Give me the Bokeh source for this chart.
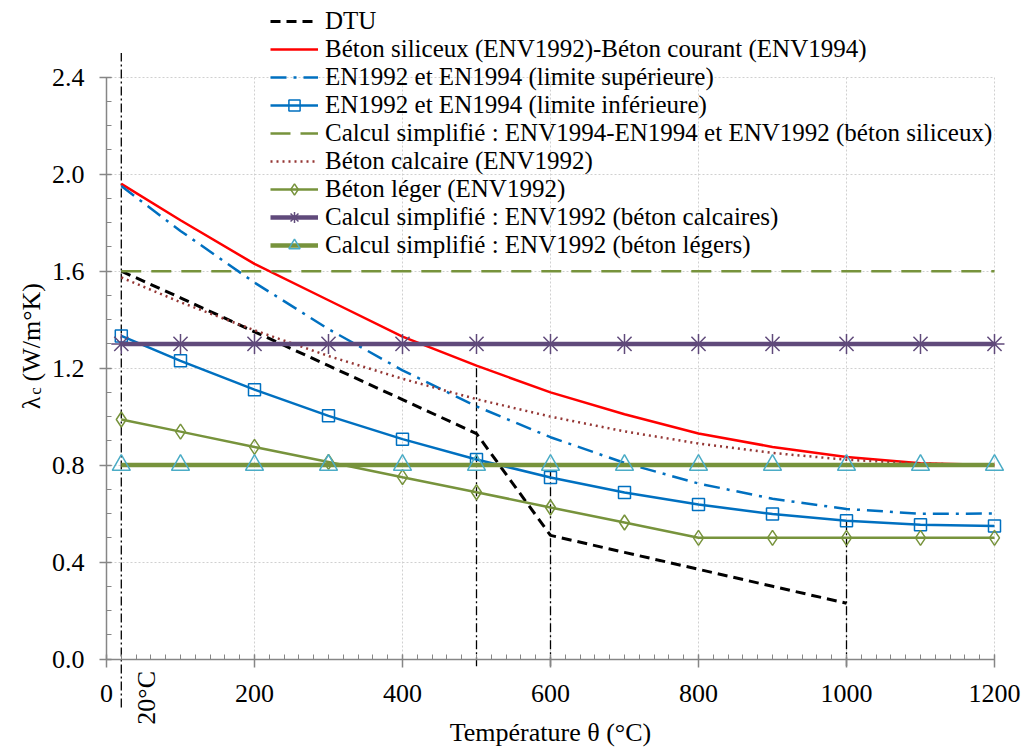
import math
from bokeh.plotting import figure
from bokeh.models import (FixedTicker, PrintfTickFormatter, Legend, LegendItem,
                          Label, Range1d)
from bokeh.embed import file_html
from bokeh.resources import INLINE

# ---------------- data ----------------
temps = [20, 100, 200, 300, 400, 500, 600, 700, 800, 900, 1000, 1100, 1200]
dtu_t = [20, 100, 200, 300, 400, 500, 600, 700, 800, 900, 1000]
dtu = [1.60, 1.49, 1.35, 1.21, 1.07, 0.93, 0.51, 0.44, 0.37, 0.30, 0.23]
siliceux = [1.96, 1.81, 1.63, 1.48, 1.33, 1.21, 1.10, 1.01, 0.93, 0.875, 0.833, 0.808, 0.80]
en_sup = [1.951, 1.766, 1.553, 1.361, 1.191, 1.042, 0.915, 0.809, 0.724, 0.661, 0.619, 0.599, 0.600]
en_inf = [1.333, 1.230, 1.111, 1.003, 0.907, 0.823, 0.749, 0.687, 0.637, 0.598, 0.570, 0.554, 0.549]
simpl_sil_t = [20, 1200]
simpl_sil = [1.6, 1.6]
calcaire = [1.574, 1.472, 1.356, 1.25, 1.156, 1.072, 1.0, 0.939, 0.889, 0.85, 0.822, 0.806, 0.80]
leger = [0.988, 0.938, 0.875, 0.813, 0.75, 0.688, 0.625, 0.563, 0.5, 0.5, 0.5, 0.5, 0.5]
simpl_calc = [1.3, 1.3, 1.3, 1.3, 1.3, 1.3, 1.3, 1.3, 1.3, 1.3, 1.3, 1.3, 1.3]
simpl_leger = [0.8, 0.8, 0.8, 0.8, 0.8, 0.8, 0.8, 0.8, 0.8, 0.8, 0.8, 0.8, 0.8]

ref_x = [20, 500, 600, 1000]
ref_top = [2.5, 1.2, 0.8, 0.57]
ref_bottom = [-0.2, -0.03, -0.03, -0.03]

x_ticks = [0, 200, 400, 600, 800, 1000, 1200]
x_minor = list(range(0, 1201, 20))
y_ticks = [0.0, 0.4, 0.8, 1.2, 1.6, 2.0, 2.4]
y_minor = [round(0.1 * i, 1) for i in range(0, 25)]

labels = [
    "DTU",
    "Béton siliceux (ENV1992)-Béton courant (ENV1994)",
    "EN1992 et EN1994 (limite supérieure)",
    "EN1992 et EN1994 (limite inférieure)",
    "Calcul simplifié : ENV1994-EN1994 et ENV1992 (béton siliceux)",
    "Béton calcaire (ENV1992)",
    "Béton léger (ENV1992)",
    "Calcul simplifié : ENV1992 (béton calcaires)",
    "Calcul simplifié : ENV1992 (béton légers)",
]

FONT = "'Liberation Serif', 'Times New Roman', serif"
AXIS_COLOR = "#868686"

# frame covers the whole canvas; axes are placed at the data origin
p = figure(width=1023, height=747, output_backend="svg", toolbar_location=None,
           x_range=Range1d(-143.24, 1239.19), y_range=Range1d(-0.3651, 2.7166),
           min_border_left=0, min_border_right=0, min_border_top=0,
           min_border_bottom=0)
p.outline_line_color = None
p.background_fill_color = "white"

# axes
xt = FixedTicker(ticks=x_ticks, minor_ticks=x_minor)
yt = FixedTicker(ticks=y_ticks, minor_ticks=y_minor)
p.xaxis.ticker = xt
p.yaxis.ticker = yt
p.xgrid.ticker = xt
p.ygrid.ticker = yt
p.yaxis.formatter = PrintfTickFormatter(format="%.1f")
p.xaxis.fixed_location = 0
p.yaxis.fixed_location = 0
p.xaxis.bounds = (0, 1200)
p.yaxis.bounds = (0, 2.4)
for ax in (p.xaxis[0], p.yaxis[0]):
    ax.axis_line_color = AXIS_COLOR
    ax.axis_line_width = 1.5
    ax.major_tick_line_color = AXIS_COLOR
    ax.minor_tick_line_color = AXIS_COLOR
    ax.major_tick_line_width = 1.5
    ax.minor_tick_line_width = 1
    ax.major_label_text_font = FONT
    ax.major_label_text_font_size = "26px"
    ax.major_label_text_color = "black"
    ax.axis_label_text_font = FONT
    ax.axis_label_text_font_size = "26px"
    ax.axis_label_text_font_style = "normal"
    ax.axis_label_text_color = "black"
p.xaxis.major_tick_in = 5
p.xaxis.major_tick_out = 8
p.xaxis.minor_tick_in = 5
p.xaxis.minor_tick_out = 0
p.xaxis.major_label_standoff = 18
p.xaxis.axis_label = "Température θ (°C)"
p.xaxis.axis_label_standoff = 12
p.yaxis.major_tick_in = 5
p.yaxis.major_tick_out = 7
p.yaxis.minor_tick_in = 5
p.yaxis.minor_tick_out = 0
p.yaxis.major_label_standoff = 15

# grids
p.xgrid.grid_line_color = "#D0D0D0"
p.ygrid.grid_line_color = "#D0D0D0"
p.xgrid.grid_line_dash = "2 2"
p.ygrid.grid_line_dash = "2 2"
try:
    p.xgrid.cross_bounds = (0, 2.4)
    p.ygrid.cross_bounds = (0, 1200)
    p.xgrid.bounds = (0, 1200)
    p.ygrid.bounds = (0, 2.4)
except AttributeError:
    p.xgrid.visible = False
    p.ygrid.visible = False
    p.segment(x0=x_ticks[1:], y0=[0] * 6, x1=x_ticks[1:], y1=[2.4] * 6,
              line_color="#D0D0D0", line_dash="2 2", line_width=1)
    p.segment(x0=[0] * 6, y0=y_ticks[1:], x1=[1200] * 6, y1=y_ticks[1:],
              line_color="#D0D0D0", line_dash="2 2", line_width=1)

# reference vertical dash-dot lines
p.segment(x0=ref_x, y0=ref_bottom, x1=ref_x, y1=ref_top,
          line_color="black", line_width=1.3, line_dash="9 3 2 3")

# series
r_dtu = p.line(dtu_t, dtu, line_color="black", line_width=3, line_dash="10 6")
r_sil = p.line(temps, siliceux, line_color="#FF0000", line_width=2.5)
r_sup = p.line(temps, en_sup, line_color="#0070C0", line_width=2.5, line_dash="16 7 3 7")
r_inf = p.line(temps, en_inf, line_color="#0070C0", line_width=2.5)
m_inf = p.scatter(temps, en_inf, marker="square", size=12, line_color="#0070C0",
                  line_width=1.5, fill_color=None)
r_ssil = p.line(simpl_sil_t, simpl_sil, line_color="#77933C", line_width=2.5, line_dash="20 10")
r_cal = p.line(temps, calcaire, line_color="#953735", line_width=2.5, line_dash="2 4")
r_leg = p.line(temps, leger, line_color="#77933C", line_width=2.5)
m_leg = p.scatter(temps, leger, marker="diamond", size=15,
                  line_color="#77933C", line_width=1.5, fill_color=None)
r_scal = p.line(temps, simpl_calc, line_color="#604A7B", line_width=4.5)
m_scal = p.scatter(temps, simpl_calc, marker="asterisk", size=20, line_color="#604A7B",
                   line_width=1.5)
r_sleg = p.line(temps, simpl_leger, line_color="#77933C", line_width=4.5)
m_sleg = p.scatter(temps, simpl_leger, marker="triangle", size=18, line_color="#4BACC6",
                   line_width=1.5, fill_color=None)

items = [
    LegendItem(label=labels[0], renderers=[r_dtu]),
    LegendItem(label=labels[1], renderers=[r_sil]),
    LegendItem(label=labels[2], renderers=[r_sup]),
    LegendItem(label=labels[3], renderers=[r_inf, m_inf]),
    LegendItem(label=labels[4], renderers=[r_ssil]),
    LegendItem(label=labels[5], renderers=[r_cal]),
    LegendItem(label=labels[6], renderers=[r_leg, m_leg]),
    LegendItem(label=labels[7], renderers=[r_scal, m_scal]),
    LegendItem(label=labels[8], renderers=[r_sleg, m_sleg]),
]
legend = Legend(items=items, location=(270, 488),
                label_text_font=FONT, label_text_font_size="25px",
                label_text_color="black",
                glyph_width=48, glyph_height=28, label_height=28,
                spacing=0, padding=0, margin=0, label_standoff=7,
                background_fill_alpha=0, border_line_color=None)
p.add_layout(legend)

# y-axis title with subscript
def ylab(x, y, text, size):
    return Label(x=x, y=y, x_units="screen", y_units="data", text=text,
                 angle=math.pi / 2, text_font=FONT, text_font_size=size,
                 text_baseline="alphabetic", text_align="left", text_color="black")

p.add_layout(ylab(31, 1.03, "λ", "26px"))
p.add_layout(ylab(35, 1.09, "c", "17px"))
p.add_layout(ylab(31, 1.145, "(W/m°K)", "26px"))

# 20°C annotation
p.add_layout(Label(x=20, y=-0.16, x_offset=25, text="20°C", angle=math.pi / 2,
                   text_font=FONT, text_font_size="26px",
                   text_baseline="alphabetic", text_align="center", text_color="black"))

open("out.html", "w").write(file_html(p, INLINE))
